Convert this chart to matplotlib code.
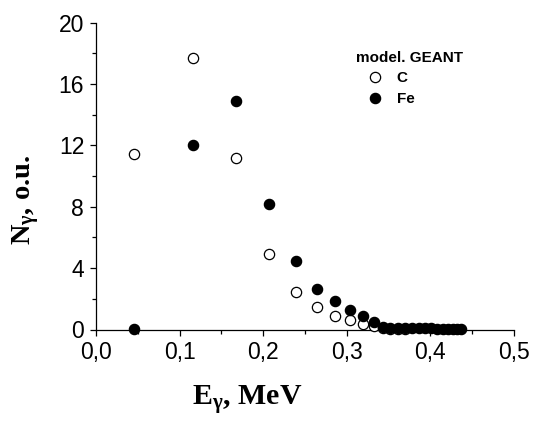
import matplotlib
matplotlib.use("Agg")
import matplotlib.pyplot as plt
from matplotlib.lines import Line2D
from matplotlib.ticker import FixedLocator, MultipleLocator

# ---- data ----
c_energy = [0.046, 0.1157, 0.1675, 0.2073, 0.2396, 0.2644, 0.2859, 0.3038, 0.319, 0.332,
            0.343, 0.352, 0.361, 0.370]
c_counts = [11.43, 17.69, 11.17, 4.9, 2.45, 1.47, 0.9, 0.65, 0.36, 0.25,
            0.08, 0.05, 0.04, 0.03]

fe_energy = [0.046, 0.1157, 0.1675, 0.2073, 0.2396, 0.2644, 0.2859, 0.3038, 0.319, 0.332,
             0.343, 0.352, 0.361, 0.370, 0.378, 0.386, 0.394, 0.401, 0.408, 0.415,
             0.421, 0.427, 0.432, 0.437]
fe_counts = [0.05, 12.04, 14.9, 8.17, 4.47, 2.62, 1.84, 1.3, 0.9, 0.52,
             0.15, 0.1, 0.08, 0.08, 0.1, 0.12, 0.1, 0.08, 0.06, 0.06,
             0.05, 0.05, 0.04, 0.04]

x_ticks = [0.0, 0.1, 0.2, 0.3, 0.4, 0.5]
x_tick_labels = ["0,0", "0,1", "0,2", "0,3", "0,4", "0,5"]
y_ticks = [0, 4, 8, 12, 16, 20]
y_tick_labels = ["0", "4", "8", "12", "16", "20"]

legend_title = "model. GEANT"
series_names = ["C", "Fe"]

plt.rcParams["mathtext.fontset"] = "custom"
plt.rcParams["mathtext.rm"] = "Liberation Serif:bold"
plt.rcParams["mathtext.it"] = "Liberation Serif:bold"
plt.rcParams["mathtext.bf"] = "Liberation Serif:bold"

W, H = 538, 421
fig = plt.figure(figsize=(W / 100, H / 100), dpi=100)
ax = fig.add_axes([96 / W, 1 - 329.5 / H, (514 - 96) / W, (329.5 - 22.5) / H])

ms = 7.4
ax.plot(c_energy, c_counts, linestyle="none", marker="o", markersize=ms,
        markerfacecolor="white", markeredgecolor="black", markeredgewidth=0.9,
        clip_on=False, zorder=3)
ax.plot(fe_energy, fe_counts, linestyle="none", marker="o", markersize=ms,
        markerfacecolor="black", markeredgecolor="black", markeredgewidth=0.9,
        clip_on=False, zorder=4)

ax.set_xlim(0, 0.5)
ax.set_ylim(0, 20)
ax.xaxis.set_major_locator(FixedLocator(x_ticks))
ax.set_xticklabels(x_tick_labels)
ax.yaxis.set_major_locator(FixedLocator(y_ticks))
ax.set_yticklabels(y_tick_labels)
ax.xaxis.set_minor_locator(MultipleLocator(0.05))
ax.yaxis.set_minor_locator(MultipleLocator(2))

for s in ["top", "right"]:
    ax.spines[s].set_visible(False)
for s in ["left", "bottom"]:
    ax.spines[s].set_linewidth(0.9)

ax.tick_params(which="major", direction="out", length=4.5, width=0.9,
               labelsize=16.5, pad=4)
ax.tick_params(which="minor", direction="out", length=2.6, width=0.9)
for lab in ax.get_xticklabels() + ax.get_yticklabels():
    lab.set_fontfamily("Liberation Sans")

fig.text(26 / W, 1 - 200 / H, r"N$_\gamma$, o.u.", rotation=90,
         fontsize=20.5, fontweight="bold", fontfamily="Liberation Serif",
         ha="center", va="center")
fig.text(247 / W, 1 - 399 / H, r"E$_\gamma$, MeV",
         fontsize=21.5, fontweight="bold", fontfamily="Liberation Serif",
         ha="center", va="center")

# legend
fig.text(356 / W, 1 - 58 / H, legend_title, fontsize=11, fontweight="bold",
         fontfamily="Liberation Sans", ha="left", va="center")
handles = [
    Line2D([], [], linestyle="none", marker="o", markersize=ms,
           markerfacecolor="white", markeredgecolor="black", markeredgewidth=0.9),
    Line2D([], [], linestyle="none", marker="o", markersize=ms,
           markerfacecolor="black", markeredgecolor="black", markeredgewidth=0.9),
]
leg = fig.legend(handles, series_names, loc="upper left",
                 bbox_to_anchor=(366 / W, 1 - 71 / H), frameon=False,
                 prop={"family": "Liberation Sans", "weight": "bold", "size": 11},
                 handlelength=1.2, handletextpad=0.8, labelspacing=0.45,
                 borderpad=0, borderaxespad=0)

fig.savefig("out.png", dpi=100)
